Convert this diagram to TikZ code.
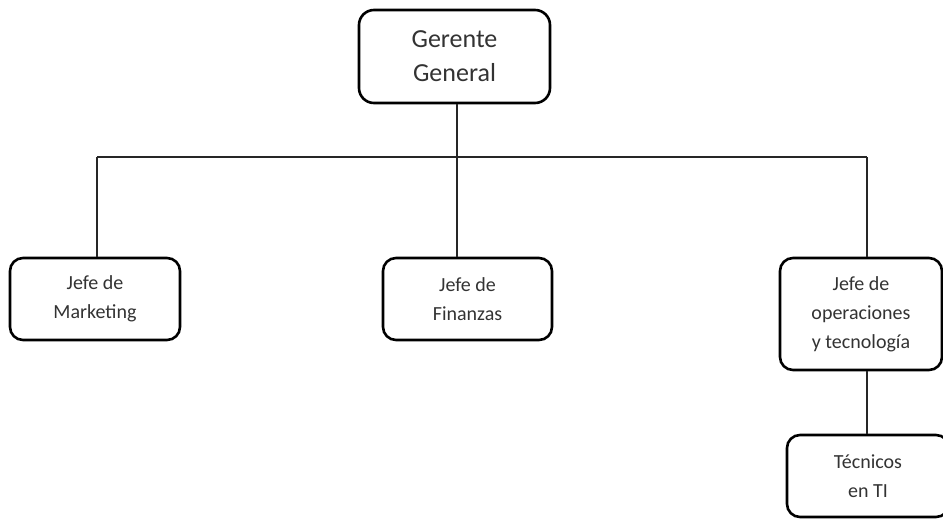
\documentclass[tikz,border=0pt]{standalone}
\usepackage{fontspec}
\setmainfont{Carlito}
\usepackage{tikz}

\begin{document}
\begin{tikzpicture}[x=1pt,y=-1pt,semithick,
    puesto/.style={draw=black,line width=2.6pt,rounded corners=13pt,fill=white,
        align=center,inner sep=0pt,text=black!80,minimum height=82pt,
        font=\fontsize{20}{29}\selectfont},
    enlace/.style={draw=black!85,line width=1.8pt}]
        %\tikzstyle{every node}=[draw=none]
        \useasboundingbox (0,0) rectangle (943,520);

        \node[puesto,minimum width=191pt,minimum height=93pt,rounded corners=15pt,
            font=\fontsize{26}{34}\selectfont] (gg) at (454.5,56.5) {Gerente\\General};
        \node[puesto,minimum width=170pt] (mk)  at (95,299)   {Jefe de\\Marketing};
        \node[puesto,minimum width=169pt] (fin) at (467.5,299) {Jefe de\\Finanzas};
        \node[puesto,minimum width=162pt,minimum height=112pt] (op) at (861,314)
            {Jefe de\\operaciones\\y tecnología};
        \node[puesto,minimum width=162pt] (tec) at (868,476) {Técnicos\\en TI};

        \coordinate (b1) at (97,157);
        \coordinate (b2) at (457,157);
        \coordinate (b3) at (867,157);

        \draw[enlace] (b1) -- (b3);
        \draw[enlace] (gg.south -| b2) -- (b2);
        \draw[enlace] (b1) -- (b1 |- mk.north);
        \draw[enlace] (b2) -- (b2 |- fin.north);
        \draw[enlace] (b3) -- (b3 |- op.north);
        \draw[enlace] (op.south -| b3) -- (b3 |- tec.north);
    \end{tikzpicture}
\end{document}
